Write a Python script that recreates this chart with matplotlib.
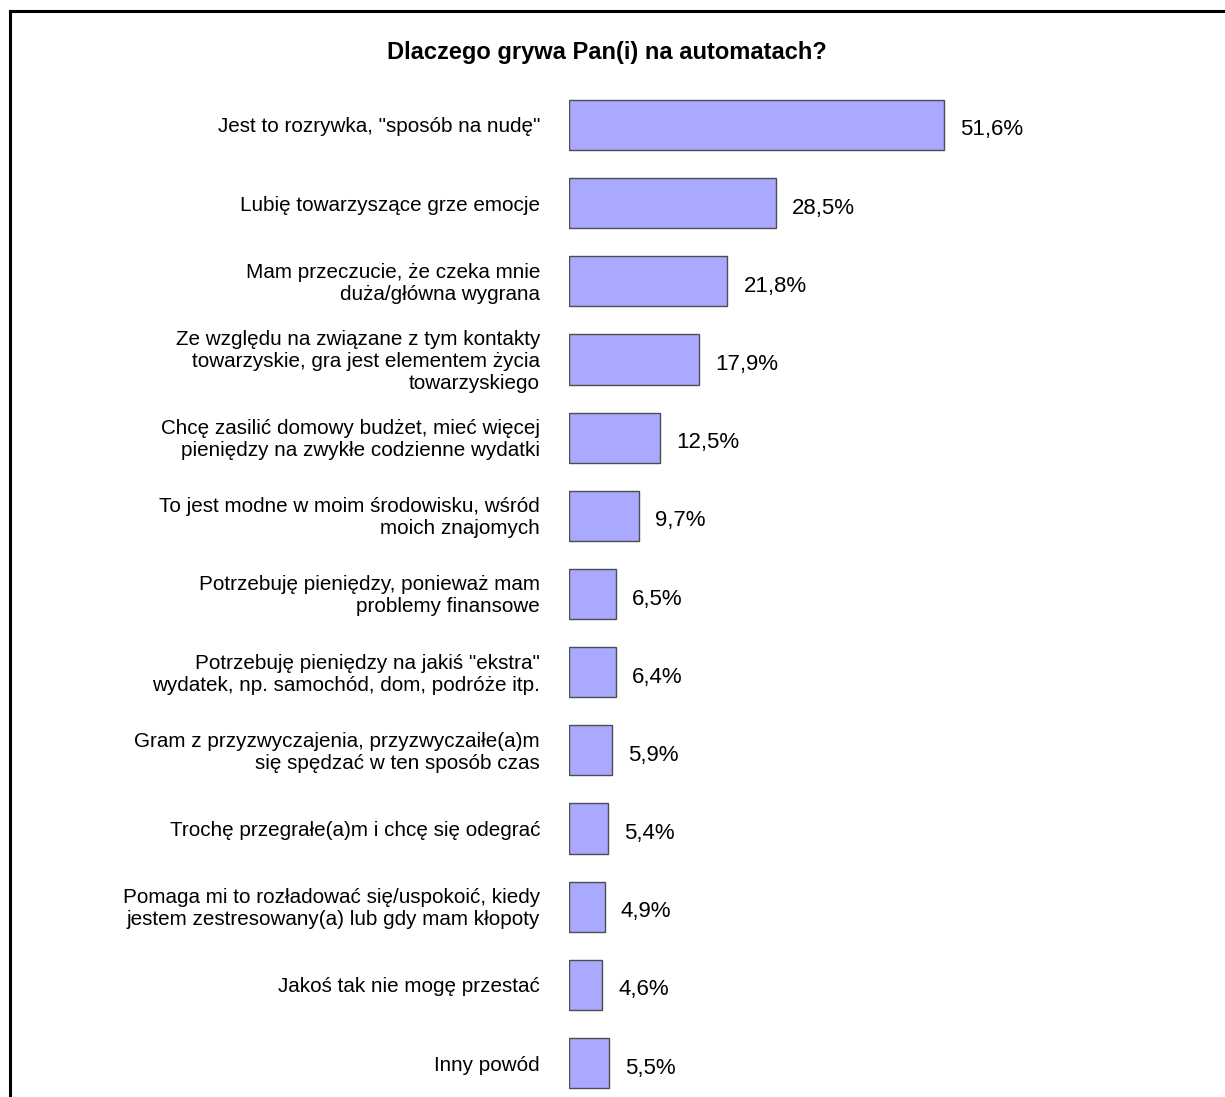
import matplotlib
matplotlib.use("Agg")
import matplotlib.pyplot as plt
from matplotlib.lines import Line2D

title = "Dlaczego grywa Pan(i) na automatach?"
categories = [
    'Jest to rozrywka, "sposób na nudę"',
    'Lubię towarzyszące grze emocje',
    'Mam przeczucie, że czeka mnie\nduża/główna wygrana',
    'Ze względu na związane z tym kontakty\ntowarzyskie, gra jest elementem życia\ntowarzyskiego',
    'Chcę zasilić domowy budżet, mieć więcej\npieniędzy na zwykłe codzienne wydatki',
    'To jest modne w moim środowisku, wśród\nmoich znajomych',
    'Potrzebuję pieniędzy, ponieważ mam\nproblemy finansowe',
    'Potrzebuję pieniędzy na jakiś "ekstra"\nwydatek, np. samochód, dom, podróże itp.',
    'Gram z przyzwyczajenia, przyzwyczaiłe(a)m\nsię spędzać w ten sposób czas',
    'Trochę przegrałe(a)m i chcę się odegrać',
    'Pomaga mi to rozładować się/uspokoić, kiedy\njestem zestresowany(a) lub gdy mam kłopoty',
    'Jakoś tak nie mogę przestać',
    'Inny powód',
]
values = [51.6, 28.5, 21.8, 17.9, 12.5, 9.7, 6.5, 6.4, 5.9, 5.4, 4.9, 4.6, 5.5]
value_labels = ["51,6%", "28,5%", "21,8%", "17,9%", "12,5%", "9,7%", "6,5%",
                "6,4%", "5,9%", "5,4%", "4,9%", "4,6%", "5,5%"]

plt.rcParams['font.family'] = ['Liberation Sans', 'DejaVu Sans']

W, H = 1225, 1097
fig = plt.figure(figsize=(W / 100, H / 100), dpi=100)

# axes geometry in pixels
ax_left = 569
ax_right = 1200
px_per_unit = 375 / 51.6
ax_top = 125 - 78.17 / 2
ax_bottom = 1063 + 78.17 / 2
ax = fig.add_axes([ax_left / W, (H - ax_bottom) / H,
                   (ax_right - ax_left) / W, (ax_bottom - ax_top) / H])
n = len(values)
ypos = list(range(n))
ax.barh(ypos, values, height=0.64, color='#A9A9FF', edgecolor='#4d4d4d', linewidth=1.0)
ax.set_xlim(0, (ax_right - ax_left) / px_per_unit)
ax.set_ylim(n - 0.5, -0.5)
for s in ax.spines.values():
    s.set_visible(False)
ax.set_xticks([])
ax.set_yticks([])

for i, (v, lab) in enumerate(zip(values, value_labels)):
    ax.annotate(lab, xy=(v, i), xytext=(16, -5), textcoords='offset pixels',
                ha='left', va='center', fontsize=16, color='black')

for i, cat in enumerate(categories):
    ax.annotate(cat, xy=(0, i), xytext=(-29, -2), textcoords='offset pixels',
                ha='right', va='center', fontsize=14.9, color='black',
                multialignment='right', linespacing=1.2)

fig.text(607 / W, 1 - 52 / H, title, ha='center', va='center',
         fontsize=17, fontweight='bold')

# frame: top and left border lines
fig.add_artist(Line2D([10 / W, 1.0], [1 - 11 / H, 1 - 11 / H], color='black',
                      linewidth=2.2, transform=fig.transFigure))
fig.add_artist(Line2D([10 / W, 10 / W], [0.0, 1 - 11 / H], color='black',
                      linewidth=2.2, transform=fig.transFigure))

fig.savefig("out.png", dpi=100, facecolor='white')
